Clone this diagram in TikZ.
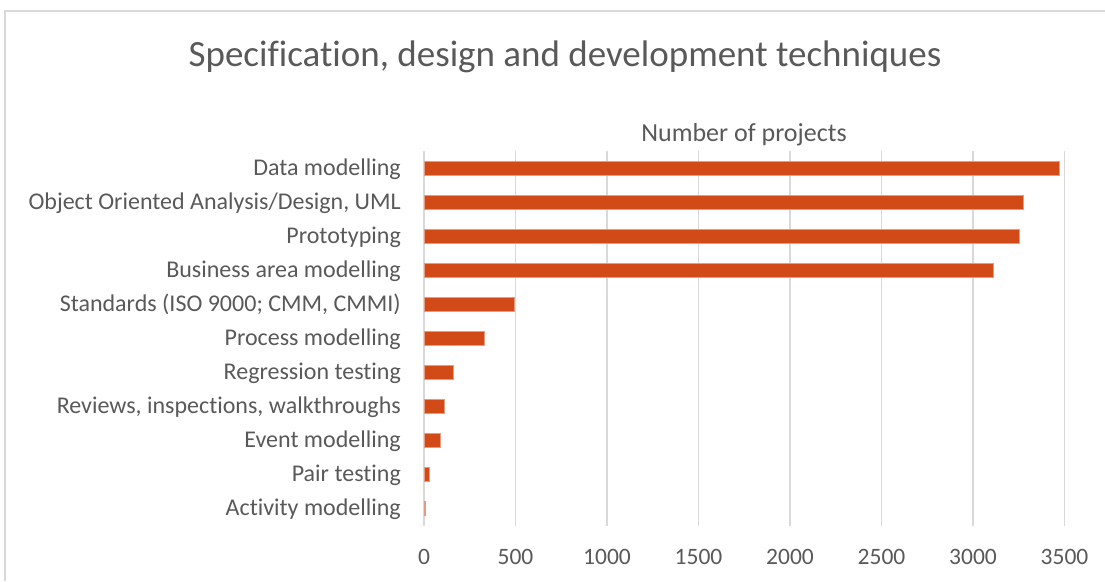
\documentclass[tikz,border=0pt]{standalone}
\usepackage{fontspec}
\setmainfont{Carlito}[Ligatures=NoCommon]
\definecolor{barorange}{RGB}{210,74,24}
\definecolor{gridgray}{RGB}{217,217,217}
\definecolor{textgray}{RGB}{89,89,89}

\begin{document}
\begin{tikzpicture}[x=1pt,y=-1pt,
  bar/.style={fill=barorange,draw=barorange!55,line width=0.6pt},
  gridline/.style={draw=gridgray,line width=1.6pt},
  catlabel/.style={anchor=base east,text=textgray,inner sep=0pt,font=\fontsize{24}{28}\selectfont},
  ticklabel/.style={anchor=base,text=textgray,inner sep=0pt,font=\fontsize{23.5}{28}\selectfont}]
\useasboundingbox (0,0) rectangle (1105,581);
% chart frame, cut off at right and bottom
\draw[gridgray,line width=1.2pt] (5,581) -- (5,11) -- (1105,11);

\node[anchor=base,text=textgray,font=\fontsize{37}{44}\selectfont] (title) at (565,66) {Specification, design and development techniques};
\node[anchor=base,text=textgray,font=\fontsize{26}{30}\selectfont] (axtitle) at (744,141) {Number of projects};

% vertical grid and tick labels
\foreach \t [count=\i] in {0,500,...,3500} {
  \draw[gridline] ({424+0.183*\t},151) -- ({424+0.183*\t},526);
  \node[ticklabel] (tick\i) at ({424+0.183*\t},564) {\t};
}

% bars, top to bottom
\foreach \lab/\v [count=\i] in {Data modelling/3471,
    {Object Oriented Analysis/Design, UML}/3274,
    Prototyping/3252,
    Business area modelling/3112,
    {Standards (ISO 9000; CMM, CMMI)}/493,
    Process modelling/332,
    Regression testing/162,
    {Reviews, inspections, walkthroughs}/109,
    Event modelling/91,
    Pair testing/29,
    Activity modelling/8} {
  \filldraw[bar] (424,{134+34*\i-7}) rectangle ({424+0.183*\v},{134+34*\i+7});
  \node[catlabel] (cat\i) at (401,{134+34*\i+7}) {\lab};
}
\end{tikzpicture}
\end{document}
